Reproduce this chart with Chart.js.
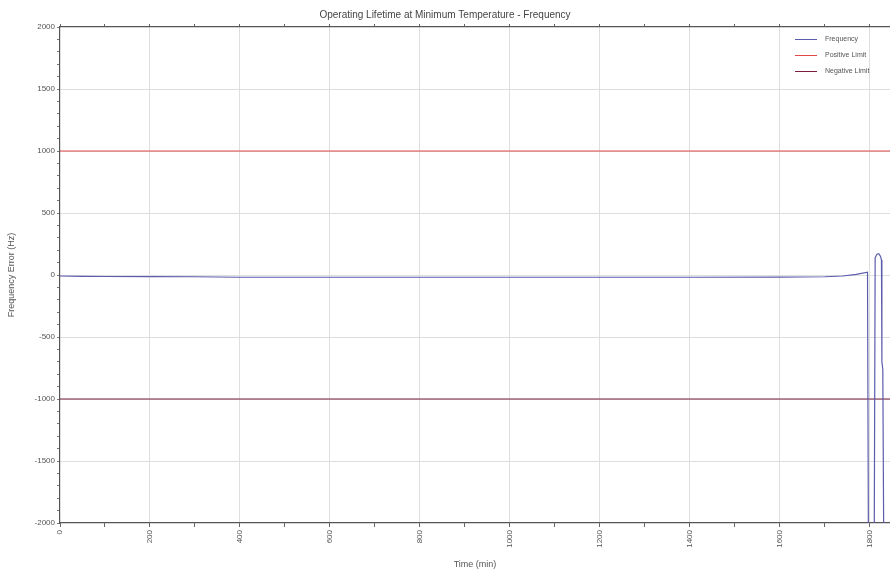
<!DOCTYPE html>
<html>
<head>
<meta charset="utf-8">
<script src="https://cdn.jsdelivr.net/npm/chart.js@4"></script>
<style>
  body { margin: 0; background: #fff; }
</style>
</head>
<body>
<canvas id="myChart" width="890" height="576"></canvas>
<script>
// time in minutes, frequency error in Hz
const timeVals = [0, 50, 100, 200, 300, 350, 400, 600, 800, 1000, 1200, 1400, 1600, 1650, 1700, 1740, 1770, 1795,
                  1797, 1810, 1812, 1816, 1820, 1824, 1826, 1827, 1829, 1831, 1845];
const freqVals = [-8, -11, -12, -13, -14, -16, -18, -18, -18, -18, -18, -18, -17, -16, -14, -8, 5, 22,
                  -2100, -2100, 140, 168, 172, 150, 120, -700, -760, -2100, -2100];
const limitTimes = [0, 1845];
const positiveLimit = [1000, 1000];
const negativeLimit = [-1000, -1000];

const xMin = 0, xMax = 1845;
const yMin = -2000, yMax = 2000;

const seriesNames = ['Frequency', 'Positive Limit', 'Negative Limit'];
const seriesColors = ['#5c5cae', '#e04848', '#7a1f3d'];

const toPoints = (xs, ys) => xs.map((x, i) => ({ x: x, y: ys[i] }));

const fontFamily = '"Liberation Sans", Arial, sans-serif';
const tickFont = { family: fontFamily, size: 8 };

// legend drawn inside the plot, top right, without a box
const insideLegend = {
  id: 'insideLegend',
  afterDraw(chart) {
    const c = chart.ctx;
    const left = chart.chartArea.right - 95;
    const top = chart.chartArea.top + 12;
    c.save();
    c.font = '7px ' + fontFamily;
    c.textBaseline = 'middle';
    chart.data.datasets.forEach((ds, i) => {
      const y = top + i * 16;
      c.strokeStyle = ds.borderColor;
      c.lineWidth = 1;
      c.beginPath();
      c.moveTo(left, y + 0.5);
      c.lineTo(left + 22, y + 0.5);
      c.stroke();
      c.fillStyle = '#555';
      c.fillText(ds.label, left + 30, y);
    });
    c.restore();
  }
};

const ctx = document.getElementById('myChart').getContext('2d');
const chart = new Chart(ctx, {
  type: 'line',
  data: {
    datasets: [
      { label: seriesNames[0], data: toPoints(timeVals, freqVals), borderColor: seriesColors[0], borderWidth: 1.2, pointRadius: 0, tension: 0 },
      { label: seriesNames[1], data: toPoints(limitTimes, positiveLimit), borderColor: seriesColors[1], borderWidth: 1, pointRadius: 0 },
      { label: seriesNames[2], data: toPoints(limitTimes, negativeLimit), borderColor: seriesColors[2], borderWidth: 1.2, pointRadius: 0 }
    ]
  },
  plugins: [insideLegend],
  options: {
    responsive: false,
    animation: false,
    layout: { padding: 0 },
    plugins: {
      legend: { display: false },
      tooltip: { enabled: false },
      title: {
        display: true,
        text: 'Operating Lifetime at Minimum Temperature - Frequency',
        color: '#444',
        font: { family: fontFamily, size: 10, weight: 'normal' },
        padding: { top: 9, bottom: 6 }
      }
    },
    scales: {
      x: {
        type: 'linear',
        position: 'bottom',
        min: xMin,
        max: xMax,
        afterBuildTicks: (scale) => {
          const t = [];
          for (let v = 0; v <= 1800; v += 100) t.push({ value: v });
          scale.ticks = t;
        },
        afterFit: (scale) => { scale.height = 53; },
        ticks: {
          autoSkip: false,
          minRotation: 90,
          maxRotation: 90,
          color: '#555',
          font: tickFont,
          padding: 3,
          callback: (v) => (v % 200 === 0 ? String(v) : '')
        },
        grid: {
          color: (c) => (c.tick && c.tick.value % 200 === 0 && c.tick.value !== 0 ? '#dedede' : 'rgba(0,0,0,0)'),
          tickColor: '#666',
          tickLength: 4
        },
        border: { color: '#555', width: 1.2 },
        title: {
          display: true,
          text: 'Time (min)',
          color: '#555',
          font: { family: fontFamily, size: 9 },
          padding: { top: 0, bottom: 6 }
        }
      },
      xTop: {
        type: 'linear',
        position: 'top',
        min: xMin,
        max: xMax,
        afterBuildTicks: (scale) => {
          const t = [];
          for (let v = 0; v <= 1800; v += 100) t.push({ value: v });
          scale.ticks = t;
        },
        afterFit: (scale) => { scale.height = 0; },
        ticks: { display: false },
        grid: { drawOnChartArea: false, tickColor: '#666', tickLength: 3 },
        border: { color: '#555', width: 1.2 }
      },
      y: {
        type: 'linear',
        min: yMin,
        max: yMax,
        afterBuildTicks: (scale) => {
          const t = [];
          for (let v = yMin; v <= yMax; v += 100) t.push({ value: v });
          scale.ticks = t;
        },
        afterFit: (scale) => { scale.width = 60; },
        ticks: {
          autoSkip: false,
          color: '#555',
          font: tickFont,
          padding: 2,
          callback: (v) => (v % 500 === 0 ? String(v) : '')
        },
        grid: {
          color: (c) => (c.tick && c.tick.value % 500 === 0 && Math.abs(c.tick.value) !== 2000 ? '#dedede' : 'rgba(0,0,0,0)'),
          tickColor: '#777',
          tickLength: 3
        },
        border: { color: '#555', width: 1.2 },
        title: {
          display: true,
          text: 'Frequency Error (Hz)',
          color: '#555',
          font: { family: fontFamily, size: 9 },
          padding: { top: 6, bottom: 0 }
        }
      }
    }
  }
});
</script>
</body>
</html>
